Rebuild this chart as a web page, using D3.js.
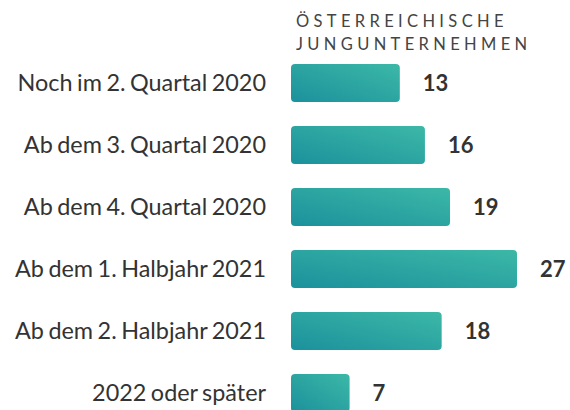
<!DOCTYPE html>
<html><head><meta charset="utf-8">
<script src="https://cdn.jsdelivr.net/npm/d3@7"></script>
<style>body{margin:0;background:#fff}svg{display:block}</style>
</head><body>
<svg id="c" width="570" height="410"></svg>
<script>
const categories = ["Noch im 2. Quartal 2020","Ab dem 3. Quartal 2020","Ab dem 4. Quartal 2020","Ab dem 1. Halbjahr 2021","Ab dem 2. Halbjahr 2021","2022 oder später"];
const values = [13,16,19,27,18,7];
const titleLines = ["ÖSTERREICHISCHE","JUNGUNTERNEHMEN"];

const svg = d3.select("#c");
const defs = svg.append("defs");
const g = defs.append("linearGradient").attr("id","grad")
  .attr("x1",0).attr("y1",1).attr("x2",1).attr("y2",0);
g.append("stop").attr("offset","0%").attr("stop-color","#1b919c");
g.append("stop").attr("offset","100%").attr("stop-color","#3cb8a7");

const x = d3.scaleLinear().domain([0,27]).range([291,517]);
const y = d3.scaleBand().domain(categories).range([64,412]).paddingInner(0.387).paddingOuter(0);

svg.append("g").selectAll("text").data(titleLines).join("text")
  .attr("x",296).attr("y",(d,i)=>27+i*23)
  .attr("font-family","Lato").attr("font-size",16.5).attr("letter-spacing",4.35)
  .attr("fill","#444").text(d=>d);

svg.append("g").selectAll("text").data(categories).join("text")
  .attr("x",266).attr("y",d=>y(d)+y.bandwidth()/2).attr("dy","0.35em")
  .attr("text-anchor","end").attr("font-family","Lato").attr("font-size",23.4)
  .attr("word-spacing",-1.5).attr("fill","#333").text(d=>d);

svg.append("g").selectAll("rect").data(values).join("rect")
  .attr("x",x(0)).attr("y",(d,i)=>y(categories[i]))
  .attr("width",d=>x(d)-x(0)).attr("height",y.bandwidth())
  .attr("rx",4).attr("fill","url(#grad)");

svg.append("g").selectAll("text").data(values).join("text")
  .attr("x",d=>x(d)+23).attr("y",(d,i)=>y(categories[i])+y.bandwidth()/2).attr("dy","0.36em")
  .attr("font-family","Lato").attr("font-weight","bold").attr("font-size",22)
  .attr("fill","#333").text(d=>d);
</script>
</body></html>
